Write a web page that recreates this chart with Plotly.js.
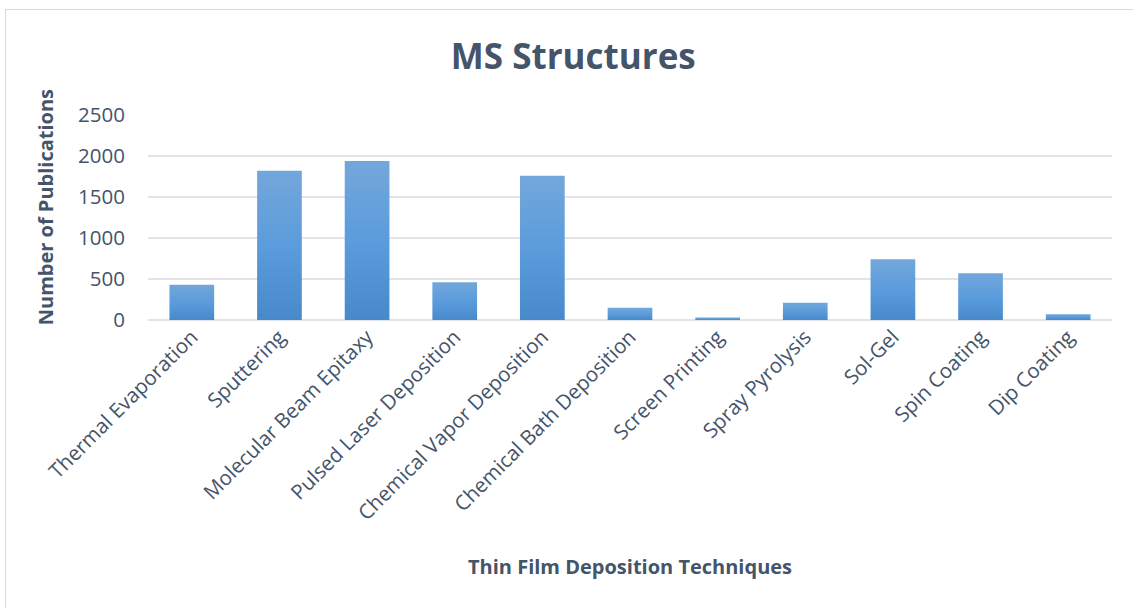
<!DOCTYPE html>
<html>
<head>
<meta charset="utf-8">
<script src="https://cdn.plot.ly/plotly-3.0.1.min.js"></script>
<style>
  html, body { margin: 0; padding: 0; background: #fff; overflow: hidden; }
  #wrap { position: relative; width: 1133px; height: 608px; }
  #chart { position: absolute; left: 0; top: 0; width: 1133px; height: 608px; }
  #frame { position: absolute; left: 5px; top: 9px; width: 1140px; height: 610px;
           border: 1px solid #d9d9d9; pointer-events: none; }
</style>
</head>
<body>
<div id="wrap">
  <div id="chart"></div>
  <div id="frame"></div>
</div>
<script>
const categories = [
  "Thermal Evaporation", "Sputtering", "Molecular Beam Epitaxy",
  "Pulsed Laser Deposition", "Chemical Vapor Deposition",
  "Chemical Bath Deposition", "Screen Printing", "Spray Pyrolysis",
  "Sol-Gel", "Spin Coating", "Dip Coating"
];
const publications = [430, 1820, 1940, 460, 1760, 150, 30, 210, 740, 570, 70];
const yTickValues = [0, 500, 1000, 1500, 2000, 2500];
const chartTitle = "MS Structures";
const xTitle = "Thin Film Deposition Techniques";
const yTitle = "Number of Publications";

const textColor = "#44546a";
const fontFam = "'Open Sans', 'Noto Sans', sans-serif";

const plotLeft = 148, plotRight = 1112, plotTop = 115, plotBottom = 320.5;
const W = 1133, H = 608;
const plotH = plotBottom - plotTop, plotW = plotRight - plotLeft;

const trace = {
  type: "bar",
  x: categories,
  y: publications,
  marker: { color: "#5b9bd5", line: { width: 0 } },
  hoverinfo: "x+y"
};

const layout = {
  width: W, height: H,
  margin: { l: plotLeft, r: W - plotRight, t: plotTop, b: H - plotBottom, pad: 0 },
  paper_bgcolor: "rgba(0,0,0,0)",
  plot_bgcolor: "rgba(0,0,0,0)",
  bargap: 0.49,
  showlegend: false,
  font: { family: fontFam, color: textColor },
  title: {
    text: chartTitle,
    font: { family: fontFam, size: 35, color: textColor, weight: "bold" },
    xref: "container", x: 0.506, xanchor: "center",
    yref: "container", y: 1 - 57 / H, yanchor: "middle"
  },
  xaxis: {
    type: "category",
    tickangle: -45,
    tickfont: { family: fontFam, size: 20.5, color: textColor },
    showgrid: false,
    showline: false,
    ticks: "",
    automargin: false,
    fixedrange: true
  },
  yaxis: {
    range: [0, 2500],
    tickvals: yTickValues,
    ticktext: yTickValues.map(String),
    tickfont: { family: fontFam, size: 20.5, color: textColor },
    showgrid: true,
    gridcolor: "#e1e4e9",
    gridwidth: 1.5,
    zeroline: true,
    zerolinecolor: "#e1e4e9",
    zerolinewidth: 1.5,
    showline: false,
    ticks: "",
    ticklabelstandoff: 22,
    automargin: false,
    fixedrange: true
  },
  annotations: [
    {
      text: "<b>" + xTitle + "</b>",
      xref: "paper", yref: "paper",
      x: 0.5, y: (plotBottom - 568) / plotH,
      xanchor: "center", yanchor: "middle",
      showarrow: false,
      font: { family: fontFam, size: 20, color: textColor }
    },
    {
      text: "<b>" + yTitle + "</b>",
      xref: "paper", yref: "paper",
      x: (45 - plotLeft) / plotW, y: (plotBottom - 207.5) / plotH,
      xanchor: "center", yanchor: "middle",
      textangle: -90,
      showarrow: false,
      font: { family: fontFam, size: 20, color: textColor }
    }
  ]
};

function applyGradient(gd) {
  const svg = gd.querySelector("svg.main-svg");
  if (!svg) return;
  const NS = "http://www.w3.org/2000/svg";
  let defs = svg.querySelector("defs");
  if (!defs) { defs = document.createElementNS(NS, "defs"); svg.insertBefore(defs, svg.firstChild); }
  const grad = document.createElementNS(NS, "linearGradient");
  grad.setAttribute("id", "barGrad");
  grad.setAttribute("x1", "0"); grad.setAttribute("y1", "0");
  grad.setAttribute("x2", "0"); grad.setAttribute("y2", "1");
  [["0", "#73a7da"], ["0.5", "#5b9cdc"], ["1", "#4789ca"]].forEach(([o, c]) => {
    const s = document.createElementNS(NS, "stop");
    s.setAttribute("offset", o); s.setAttribute("stop-color", c);
    grad.appendChild(s);
  });
  defs.appendChild(grad);
  gd.querySelectorAll(".barlayer .point path").forEach(p => {
    p.style.fill = "url(#barGrad)";
  });
}

Plotly.newPlot("chart", [trace], layout, { displayModeBar: false, staticPlot: true })
  .then(applyGradient);
</script>
</body>
</html>
